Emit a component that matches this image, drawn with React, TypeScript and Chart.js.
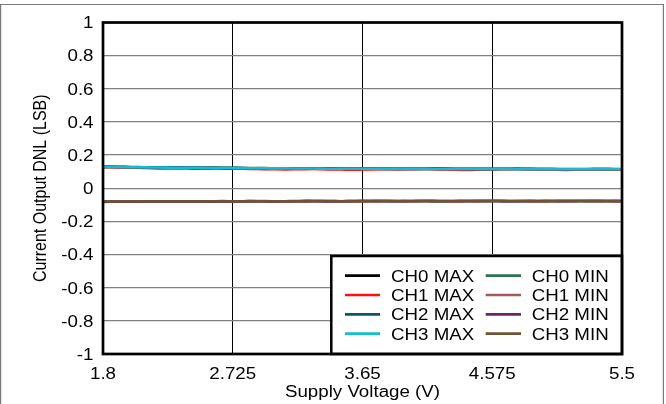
import { useEffect, useRef } from "react";
import { Chart, registerables } from "chart.js";

Chart.register(...registerables);

const voltage = [1.8, 1.9, 2.0, 2.1, 2.2, 2.3, 2.4, 2.5, 2.6, 2.7, 2.8, 2.9, 3.0, 3.1, 3.2, 3.3, 3.4, 3.5, 3.6, 3.7, 3.8, 3.9, 4.0, 4.1, 4.2, 4.3, 4.4, 4.5, 4.6, 4.7, 4.8, 4.9, 5.0, 5.1, 5.2, 5.3, 5.4, 5.5];

const ch0Max = [0.129, 0.128, 0.127, 0.126, 0.126, 0.125, 0.124, 0.123, 0.123, 0.122, 0.121, 0.121, 0.120, 0.120, 0.119, 0.119, 0.119, 0.118, 0.118, 0.118, 0.117, 0.117, 0.117, 0.117, 0.117, 0.116, 0.116, 0.116, 0.116, 0.116, 0.116, 0.115, 0.115, 0.115, 0.115, 0.115, 0.115, 0.115];
const ch1Max = [0.127, 0.126, 0.125, 0.122, 0.120, 0.119, 0.119, 0.118, 0.119, 0.118, 0.118, 0.116, 0.115, 0.114, 0.115, 0.116, 0.114, 0.113, 0.112, 0.114, 0.115, 0.114, 0.115, 0.116, 0.114, 0.112, 0.111, 0.113, 0.114, 0.115, 0.114, 0.113, 0.112, 0.111, 0.112, 0.113, 0.112, 0.112];
const ch2Max = [0.131, 0.130, 0.128, 0.127, 0.127, 0.126, 0.125, 0.124, 0.124, 0.123, 0.123, 0.122, 0.121, 0.121, 0.121, 0.120, 0.120, 0.119, 0.119, 0.119, 0.119, 0.118, 0.118, 0.118, 0.119, 0.118, 0.117, 0.117, 0.117, 0.118, 0.118, 0.117, 0.117, 0.116, 0.116, 0.117, 0.117, 0.116];
const ch3Max = [0.129, 0.128, 0.127, 0.126, 0.125, 0.124, 0.124, 0.123, 0.122, 0.122, 0.121, 0.121, 0.120, 0.120, 0.119, 0.119, 0.118, 0.118, 0.118, 0.118, 0.117, 0.117, 0.117, 0.117, 0.116, 0.116, 0.116, 0.116, 0.116, 0.116, 0.115, 0.115, 0.115, 0.115, 0.115, 0.115, 0.115, 0.115];

const ch0Min = [-0.081, -0.080, -0.081, -0.080, -0.079, -0.080, -0.079, -0.080, -0.079, -0.078, -0.079, -0.078, -0.079, -0.078, -0.078, -0.077, -0.078, -0.078, -0.077, -0.078, -0.077, -0.078, -0.078, -0.077, -0.078, -0.077, -0.077, -0.078, -0.077, -0.078, -0.077, -0.077, -0.078, -0.077, -0.077, -0.078, -0.077, -0.077];
const ch1Min = [-0.080, -0.081, -0.080, -0.079, -0.080, -0.079, -0.078, -0.079, -0.078, -0.079, -0.078, -0.077, -0.078, -0.079, -0.078, -0.077, -0.077, -0.078, -0.078, -0.077, -0.076, -0.077, -0.078, -0.077, -0.076, -0.077, -0.078, -0.077, -0.076, -0.077, -0.077, -0.078, -0.077, -0.076, -0.077, -0.077, -0.078, -0.077];
const ch2Min = [-0.082, -0.081, -0.081, -0.080, -0.080, -0.079, -0.079, -0.080, -0.079, -0.079, -0.078, -0.078, -0.079, -0.078, -0.077, -0.078, -0.079, -0.078, -0.077, -0.077, -0.078, -0.078, -0.077, -0.077, -0.078, -0.078, -0.077, -0.076, -0.077, -0.078, -0.078, -0.077, -0.077, -0.078, -0.077, -0.076, -0.077, -0.078];
const ch3Min = [-0.080, -0.080, -0.080, -0.079, -0.079, -0.079, -0.079, -0.079, -0.078, -0.078, -0.078, -0.078, -0.078, -0.078, -0.078, -0.077, -0.077, -0.078, -0.078, -0.077, -0.077, -0.077, -0.077, -0.077, -0.078, -0.078, -0.077, -0.077, -0.077, -0.077, -0.077, -0.078, -0.077, -0.077, -0.077, -0.077, -0.077, -0.077];

const seriesLabels = ["CH0 MAX", "CH1 MAX", "CH2 MAX", "CH3 MAX", "CH0 MIN", "CH1 MIN", "CH2 MIN", "CH3 MIN"];
const seriesColors = ["#000000", "#ff1010", "#0f5566", "#12bfd2", "#2a7452", "#a55a58", "#652a66", "#6e5530"];
const seriesData = [ch0Max, ch1Max, ch2Max, ch3Max, ch0Min, ch1Min, ch2Min, ch3Min];
const seriesOrder = [4, 3, 2, 0, 4, 3, 2, 0];

const xTickValues = [1.8, 2.725, 3.65, 4.575, 5.5];
const xTickLabels = ["1.8", "2.725", "3.65", "4.575", "5.5"];
const yTickValues = [-1, -0.8, -0.6, -0.4, -0.2, 0, 0.2, 0.4, 0.6, 0.8, 1];
const yTickLabels = ["-1", "-0.8", "-0.6", "-0.4", "-0.2", "0", "0.2", "0.4", "0.6", "0.8", "1"];

const xTitle = "Supply Voltage (V)";
const yTitle = "Current Output DNL (LSB)";

const FONT = '16px "Liberation Sans", Arial, sans-serif';
const STRETCH = 1.17;

function stretchedText(ctx: CanvasRenderingContext2D, text: string, x: number, y: number, align: CanvasTextAlign) {
  ctx.save();
  ctx.translate(x, y);
  ctx.scale(STRETCH, 1);
  ctx.textAlign = align;
  ctx.textBaseline = "alphabetic";
  ctx.fillText(text, 0, 0);
  ctx.restore();
}

const decorPlugin = {
  id: "decor",
  afterDraw(chart: any) {
    const ctx: CanvasRenderingContext2D = chart.ctx;
    const { left, right, top, bottom } = chart.chartArea;
    const xs = chart.scales.x;
    const ys = chart.scales.y;
    ctx.save();
    ctx.font = FONT;
    ctx.fillStyle = "#000";

    // outer frame
    ctx.strokeStyle = "#7a7a7a";
    ctx.lineWidth = 1.2;
    ctx.beginPath();
    ctx.moveTo(0.6, 404);
    ctx.lineTo(0.6, 4.5);
    ctx.lineTo(663.4, 4.5);
    ctx.lineTo(663.4, 404);
    ctx.stroke();

    // legend box
    const lx = 331.3, ly = 256;
    ctx.fillStyle = "#fff";
    ctx.fillRect(lx, ly, right - lx, bottom - ly);
    ctx.strokeStyle = "#000";
    ctx.lineWidth = 2.5;
    ctx.strokeRect(lx, ly, right - lx, bottom - ly);

    const rowY = [275.7, 295, 314.3, 333.7];
    const cols = [
      { x1: 345, x2: 380, tx: 391 },
      { x1: 485.7, x2: 521, tx: 531.7 },
    ];
    chart.data.datasets.forEach((ds: any, i: number) => {
      const c = cols[Math.floor(i / 4)];
      const y = rowY[i % 4];
      ctx.strokeStyle = ds.borderColor;
      ctx.lineWidth = 2.7;
      ctx.beginPath();
      ctx.moveTo(c.x1, y);
      ctx.lineTo(c.x2, y);
      ctx.stroke();
      ctx.fillStyle = "#000";
      stretchedText(ctx, ds.label, c.tx, y + 6, "left");
    });

    // plot border
    ctx.strokeStyle = "#000";
    ctx.lineWidth = 2.7;
    ctx.strokeRect(left, top, right - left, bottom - top);

    // tick labels
    ctx.fillStyle = "#000";
    yTickValues.forEach((v, i) => {
      const py = ys.getPixelForValue(v);
      stretchedText(ctx, yTickLabels[i], 93.5, py + 5.8, "right");
    });
    xTickValues.forEach((v, i) => {
      const px = xs.getPixelForValue(v);
      stretchedText(ctx, xTickLabels[i], px, 378.5, "center");
    });

    // axis titles
    stretchedText(ctx, xTitle, (left + right) / 2, 397.3, "center");
    ctx.save();
    ctx.translate(45.5, (top + bottom) / 2);
    ctx.scale(STRETCH, 1);
    ctx.rotate(-Math.PI / 2);
    ctx.textAlign = "center";
    ctx.textBaseline = "alphabetic";
    ctx.fillText(yTitle, 0, 0);
    ctx.restore();

    ctx.restore();
  },
};

export default function App() {
  const ref = useRef<HTMLCanvasElement | null>(null);

  useEffect(() => {
    document.body.style.margin = "0";
    const canvas = ref.current;
    if (!canvas) return;
    const chart = new Chart(canvas, {
      type: "line",
      data: {
        datasets: seriesData.map((vals, i) => ({
          label: seriesLabels[i],
          data: voltage.map((v, j) => ({ x: v, y: vals[j] })),
          borderColor: seriesColors[i],
          backgroundColor: seriesColors[i],
          borderWidth: 2.6,
          pointRadius: 0,
          tension: 0.3,
          order: seriesOrder[i],
        })),
      },
      options: {
        animation: false,
        responsive: false,
        devicePixelRatio: 1,
        layout: { padding: { top: 22.5, right: 44, left: 0, bottom: 0 } },
        plugins: {
          legend: { display: false },
          tooltip: { enabled: false },
          title: { display: false },
        },
        scales: {
          x: {
            type: "linear",
            min: 1.8,
            max: 5.5,
            afterBuildTicks: (scale: any) => {
              scale.ticks = xTickValues.map((v) => ({ value: v }));
            },
            afterFit: (scale: any) => {
              scale.height = 50;
            },
            ticks: { display: false },
            border: { display: false },
            grid: { color: "#000", lineWidth: 1, drawTicks: false },
          },
          y: {
            type: "linear",
            min: -1,
            max: 1,
            afterBuildTicks: (scale: any) => {
              scale.ticks = yTickValues.map((v) => ({ value: v }));
            },
            afterFit: (scale: any) => {
              scale.width = 103;
            },
            ticks: { display: false },
            border: { display: false },
            grid: { color: "#808080", lineWidth: 1.3, drawTicks: false },
          },
        },
      },
      plugins: [decorPlugin],
    });
    return () => chart.destroy();
  }, []);

  return (
    <div style={{ position: "absolute", left: 0, top: 0, width: 666, height: 404, background: "#fff" }}>
      <canvas ref={ref} width={666} height={404} style={{ display: "block", width: 666, height: 404 }} />
    </div>
  );
}
